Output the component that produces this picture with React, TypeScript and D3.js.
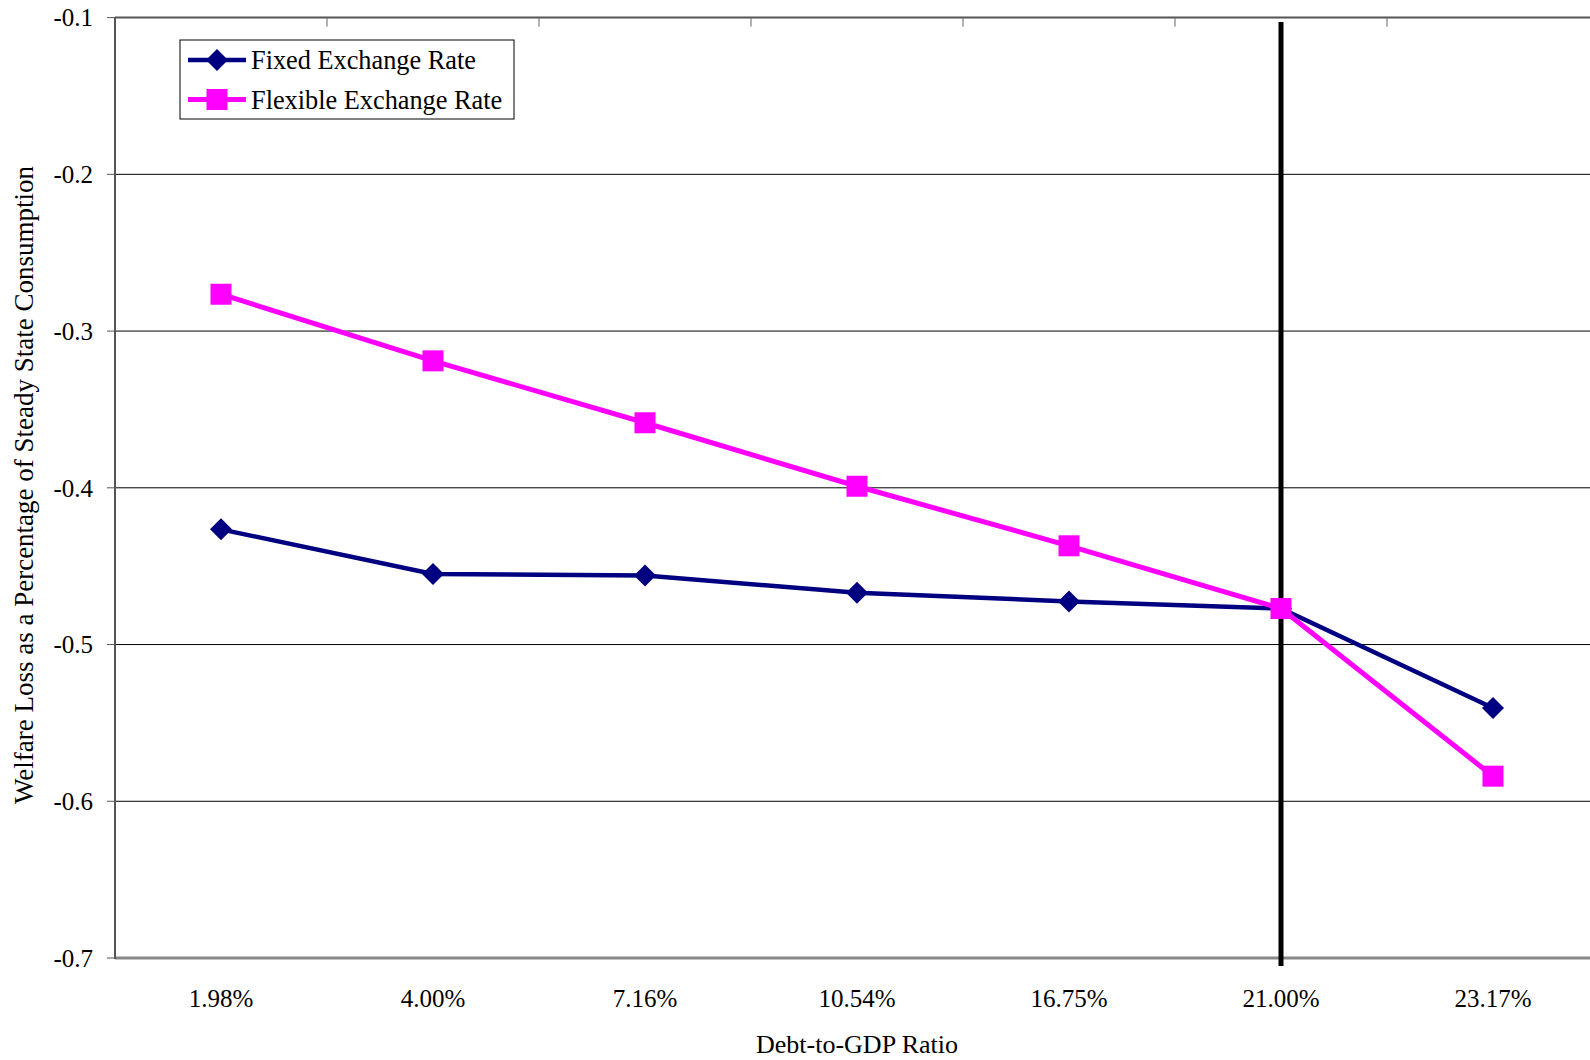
import React from "react";
import * as d3 from "d3";

const categories = ["1.98%", "4.00%", "7.16%", "10.54%", "16.75%", "21.00%", "23.17%"];
const fixedRate = [-0.4265, -0.455, -0.456, -0.467, -0.4725, -0.477, -0.5405];
const flexibleRate = [-0.2765, -0.319, -0.3585, -0.399, -0.437, -0.477, -0.584];
const yTicks = [-0.1, -0.2, -0.3, -0.4, -0.5, -0.6, -0.7];
const markerCategory = "21.00%";
const seriesNames = ["Fixed Exchange Rate", "Flexible Exchange Rate"];

const W = 1590;
const H = 1060;
const left = 115;
const band = 212;
const top = 17.6;
const bottom = 958;
const FONT = "'Liberation Serif', 'Times New Roman', serif";
const NAVY = "#000080";
const PINK = "#FF00FF";

export default function App() {
  const x = d3.scaleBand<string>().domain(categories).range([left, left + band * categories.length]).padding(0);
  const y = d3.scaleLinear().domain([-0.7, -0.1]).range([bottom, top]);
  const cx = (c: string) => (x(c) as number) + x.bandwidth() / 2;

  const line = d3
    .line<number>()
    .x((_, i) => cx(categories[i]))
    .y((d) => y(d));

  const diamond = (px: number, py: number, r: number) =>
    `M${px},${py - r}L${px + r},${py}L${px},${py + r}L${px - r},${py}Z`;

  const boundaries = categories.slice(1).map((c) => x(c) as number);
  const vx = cx(markerCategory);

  const legendX = 180;
  const legendY = 40;
  const legendW = 334;
  const legendH = 79;
  const rows = [60, 99.5];

  return (
    <svg
      width={W}
      height={H}
      style={{ position: "absolute", left: 0, top: 0, background: "#fff" }}
      fontFamily={FONT}
    >
      <rect x={0} y={0} width={W} height={H} fill="#fff" />
      {yTicks
        .filter((t) => t !== -0.1 && t !== -0.7)
        .map((t) => (
          <line key={t} x1={left} x2={left + band * 7} y1={y(t)} y2={y(t)} stroke="#000" strokeWidth={1} />
        ))}
      <line x1={left} x2={left + band * 7} y1={y(-0.1)} y2={y(-0.1)} stroke="#555" strokeWidth={2} />
      {boundaries.map((b, i) => (
        <line key={i} x1={b} x2={b} y1={y(-0.1)} y2={y(-0.1) + 9} stroke="#666" strokeWidth={1} />
      ))}
      <line x1={left} x2={left + band * 7} y1={y(-0.7)} y2={y(-0.7)} stroke="#888" strokeWidth={3} />
      <line x1={left} x2={left} y1={y(-0.1)} y2={y(-0.7) + 1} stroke="#555" strokeWidth={2} />
      {yTicks.map((t) => (
        <g key={t}>
          <line x1={left - 8} x2={left} y1={y(t)} y2={y(t)} stroke="#555" strokeWidth={1} />
          <text x={93} y={y(t)} dy="0.35em" textAnchor="end" fontSize={25} fill="#000">
            {t.toFixed(1)}
          </text>
        </g>
      ))}
      {categories.map((c) => (
        <text key={c} x={cx(c)} y={998} dy="0.35em" textAnchor="middle" fontSize={25} fill="#000">
          {c}
        </text>
      ))}
      <line x1={vx} x2={vx} y1={22} y2={966} stroke="#000" strokeWidth={5} />
      <path d={line(fixedRate) || ""} fill="none" stroke={NAVY} strokeWidth={4.5} />
      {fixedRate.map((v, i) => (
        <path key={i} d={diamond(cx(categories[i]), y(v), 11)} fill={NAVY} />
      ))}
      <path d={line(flexibleRate) || ""} fill="none" stroke={PINK} strokeWidth={5} />
      {flexibleRate.map((v, i) => (
        <rect key={i} x={cx(categories[i]) - 10.5} y={y(v) - 10.5} width={21} height={21} fill={PINK} />
      ))}
      <rect x={legendX} y={legendY} width={legendW} height={legendH} fill="#fff" stroke="#000" strokeWidth={1} />
      <line x1={188} x2={246} y1={rows[0]} y2={rows[0]} stroke={NAVY} strokeWidth={4.5} />
      <path d={diamond(217, rows[0], 11)} fill={NAVY} />
      <text x={251} y={rows[0]} dy="0.35em" fontSize={26.3} fill="#000">
        {seriesNames[0]}
      </text>
      <line x1={188} x2={246} y1={rows[1]} y2={rows[1]} stroke={PINK} strokeWidth={5} />
      <rect x={206.5} y={rows[1] - 10.5} width={21} height={21} fill={PINK} />
      <text x={251} y={rows[1]} dy="0.35em" fontSize={26.3} fill="#000">
        {seriesNames[1]}
      </text>
      <text x={857} y={1044} dy="0.35em" textAnchor="middle" fontSize={26} fill="#000">
        Debt-to-GDP Ratio
      </text>
      <text
        transform={`translate(24,485) rotate(-90)`}
        dy="0.35em"
        textAnchor="middle"
        fontSize={27}
        fill="#000"
      >
        Welfare Loss as a Percentage of Steady State Consumption
      </text>
    </svg>
  );
}
